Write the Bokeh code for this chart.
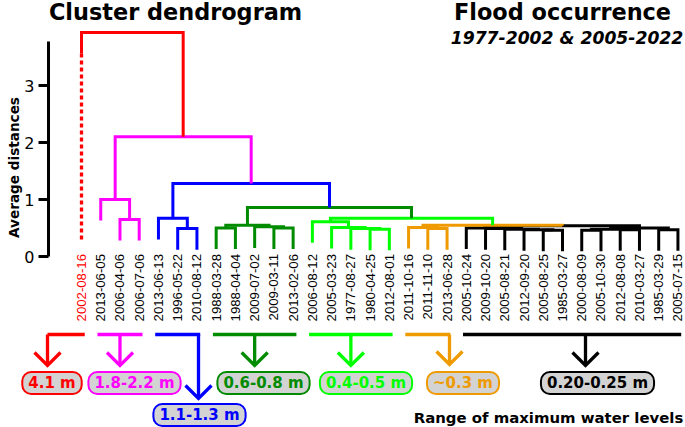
import math
from bokeh.plotting import figure
from bokeh.models import LinearAxis, FixedTicker, Range1d, Label
from bokeh.embed import file_html
from bokeh.resources import INLINE
from bokeh.core.properties import value

# ---------------- data ----------------
leaf_labels = [
    "2002-08-16",
    "2013-06-05", "2006-04-06", "2006-07-06",
    "2013-06-13", "1996-05-22", "2010-08-12",
    "1988-03-28", "1988-04-04", "2009-07-02", "2009-03-11", "2013-02-06",
    "2006-08-12", "2005-03-23", "1977-08-27", "1980-04-25", "2012-08-01",
    "2011-10-16", "2011-11-10", "2013-06-28",
    "2005-10-24", "2009-10-20", "2005-08-21", "2012-09-20", "2005-08-25",
    "1985-03-27", "2000-08-09", "2005-10-30", "2012-08-08", "2010-03-27",
    "1985-03-29", "2005-07-15",
]
leaf_cluster = [0, 1, 1, 1, 2, 2, 2, 3, 3, 3, 3, 3, 4, 4, 4, 4, 4, 5, 5, 5] + [6] * 12

cluster_colors = ["#FF0000", "#FF00FF", "#0000FF", "#008B00", "#00FF00", "#EE9A00", "#000000"]
cluster_ranges = ["4.1 m", "1.8-2.2 m", "1.1-1.3 m", "0.6-0.8 m", "0.4-0.5 m", "~0.3 m", "0.20-0.25 m"]

# merges: (left child, right child, height, colour index)
# child < 0 -> leaf number (-child-1); child >= 0 -> earlier merge
merges = [
    (-3, -4, 0.65, 1),
    (-2, 0, 1.00, 1),
    (-6, -7, 0.49, 2),
    (-5, 2, 0.67, 2),
    (-8, -9, 0.50, 3),
    (-11, -12, 0.50, 3),
    (-10, 5, 0.52, 3),
    (4, 6, 0.55, 3),
    (-16, -17, 0.48, 4),
    (-15, 8, 0.49, 4),
    (-14, 9, 0.51, 4),
    (-13, 10, 0.61, 4),
    (-19, -20, 0.49, 5),
    (-18, 12, 0.51, 5),
    (-25, -26, 0.46, 6),
    (-24, 14, 0.47, 6),
    (-23, 15, 0.48, 6),
    (-22, 16, 0.49, 6),
    (-21, 17, 0.50, 6),
    (-27, -28, 0.46, 6),
    (-29, -30, 0.47, 6),
    (19, 20, 0.48, 6),
    (-31, -32, 0.47, 6),
    (21, 22, 0.50, 6),
    (18, 23, 0.54, 6),
    (13, 24, 0.55, 5),
    (11, 25, 0.67, 4),
    (7, 26, 0.86, 3),
    (3, 27, 1.28, 2),
    (1, 28, 2.10, 1),
    (-1, 29, 3.93, 0),
]
HANG = 0.37
red_dotted_bottom = 0.28
y_ticks = [0, 1, 2, 3]
y_axis_top = 3.77

# ---------------- layout helpers (page pixel -> data units) ----------------
X0_PX, DX_PX = 81.0, 19.24    # leaf 0 position, leaf spacing
Y0_PX, DY_PX = 256.0, 57.0    # height 0 position, pixels per unit


def ix(px):
    return (px - X0_PX) / DX_PX


def hy(py):
    return (Y0_PX - py) / DY_PX


W, H = 685, 427
p = figure(width=W, height=H,
           x_range=Range1d(ix(0), ix(W)),
           y_range=Range1d(hy(H), hy(0)),
           output_backend="svg", toolbar_location=None,
           x_axis_location=None, y_axis_location=None,
           min_border=0, outline_line_color=None)
p.grid.visible = False
p.background_fill_color = "white"
p.border_fill_color = "white"

# ---------------- dendrogram ----------------
merge_x = []


def cx(c):
    return float(-c - 1) if c < 0 else merge_x[c]


for a, b, h, ci in merges:
    merge_x.append((cx(a) + cx(b)) / 2.0)

xs, ys, cols = [], [], []
for a, b, h, ci in merges:
    xa, xb = cx(a), cx(b)
    ha = h - HANG if a < 0 else merges[a][2]
    hb = h - HANG if b < 0 else merges[b][2]
    xs.append([xa, xa, xb, xb])
    ys.append([ha, h, h, hb])
    cols.append(cluster_colors[ci])
p.multi_line(xs, ys, line_color=cols, line_width=3, line_join="miter")

# dotted extension of the isolated red leaf
top = merges[-1]
p.line([0, 0], [top[2] - HANG, red_dotted_bottom], line_color=cluster_colors[0],
       line_width=3.3, line_dash="4 3")

# leaf labels
n = len(leaf_labels)
label_colors = [cluster_colors[0] if leaf_cluster[i] == 0 else "black" for i in range(n)]
p.text(x=list(range(n)), y=[hy(253.5)] * n, text=leaf_labels, angle=math.pi / 2,
       text_align="right", text_baseline="middle", text_color=label_colors,
       text_font=value("Liberation Sans"), text_font_size="13.2px")

# y axis
yaxis = LinearAxis(fixed_location=ix(48), bounds=(0, y_axis_top),
                   ticker=FixedTicker(ticks=y_ticks))
yaxis.axis_line_width = 3
yaxis.major_tick_line_width = 3
yaxis.major_tick_out = 10
yaxis.major_tick_in = 0
yaxis.minor_tick_out = 0
yaxis.minor_tick_in = 0
yaxis.major_label_standoff = 4
yaxis.major_label_text_font = "DejaVu Sans"
yaxis.major_label_text_font_size = "16px"
yaxis.major_label_text_color = "black"
p.add_layout(yaxis, "left")

p.add_layout(Label(x=ix(13), y=hy(167), text="Average distances", angle=math.pi / 2,
                   text_align="center", text_baseline="middle",
                   text_font="DejaVu Sans", text_font_style="bold",
                   text_font_size="13.6px", text_color="black"))

# ---------------- brackets, arrows and level boxes ----------------
arrow_x = [ix(47), 2, ix(198), 9, 14, ix(449), ix(585)]
tip_y = [hy(365), hy(365), hy(398), hy(365), hy(365), hy(364), hy(365)]
box_x = [ix(51.5), ix(134), ix(199), ix(263), ix(365.5), ix(462.5), ix(597)]
box_y = [hy(382.5), hy(382.5), hy(414.5), hy(382.5), hy(382.5), hy(382.5), hy(382.5)]
BR_Y = hy(334)
BR_PAD = 0.17
ADX, ADY = 13 / DX_PX, 13 / DY_PX

for c in range(len(cluster_colors)):
    idx = [i for i, cc in enumerate(leaf_cluster) if cc == c]
    first, last = min(idx), max(idx)
    ax = arrow_x[c]
    left = min(first - BR_PAD, ax)
    right = max(last + BR_PAD, ax)
    col = cluster_colors[c]
    p.multi_line([[left, right], [ax, ax], [ax - ADX, ax, ax + ADX]],
                 [[BR_Y, BR_Y], [BR_Y, tip_y[c]], [tip_y[c] + ADY, tip_y[c], tip_y[c] + ADY]],
                 line_color=col, line_width=3.3, line_join="miter")
    p.add_layout(Label(x=box_x[c], y=box_y[c], text=cluster_ranges[c],
                       text_align="center", text_baseline="middle",
                       text_font="DejaVu Sans", text_font_style="bold",
                       text_font_size="15px", text_color=col,
                       background_fill_color="#D3D3D3",
                       border_line_color=col, border_line_width=2,
                       border_radius=9, padding=(6, 2)))

# ---------------- titles ----------------
p.add_layout(Label(x=ix(175), y=hy(11), text="Cluster dendrogram",
                   text_align="center", text_baseline="middle",
                   text_font="DejaVu Sans", text_font_style="bold",
                   text_font_size="22.4px", text_color="black"))
p.add_layout(Label(x=ix(562), y=hy(11), text="Flood occurrence",
                   text_align="center", text_baseline="middle",
                   text_font="DejaVu Sans", text_font_style="bold",
                   text_font_size="22.4px", text_color="black"))
p.add_layout(Label(x=ix(566.5), y=hy(37), text="1977-2002 & 2005-2022",
                   text_align="center", text_baseline="middle",
                   text_font="DejaVu Sans", text_font_style="bold italic",
                   text_font_size="17.2px", text_color="black"))
p.add_layout(Label(x=ix(548), y=hy(417), text="Range of maximum water levels",
                   text_align="center", text_baseline="middle",
                   text_font="DejaVu Sans", text_font_style="bold",
                   text_font_size="14.9px", text_color="black"))

open("out.html", "w").write(file_html(p, INLINE))
